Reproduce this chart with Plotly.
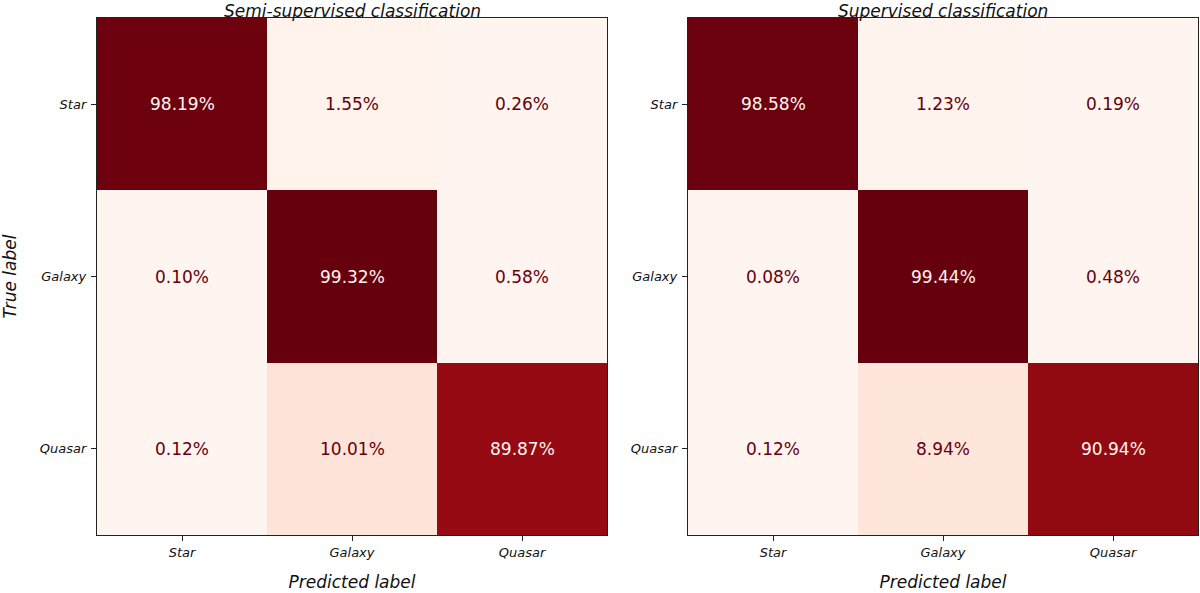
import plotly.graph_objects as go

labels = ["Star", "Galaxy", "Quasar"]
semi_values = [
    [98.19, 1.55, 0.26],
    [0.10, 99.32, 0.58],
    [0.12, 10.01, 89.87],
]
sup_values = [
    [98.58, 1.23, 0.19],
    [0.08, 99.44, 0.48],
    [0.12, 8.94, 90.94],
]
titles = ["Semi-supervised classification", "Supervised classification"]

W, H = 1200, 593
FONT = "DejaVu Sans"
DARK = "#67000d"
LIGHT = "#fff5f0"

fig = go.Figure()

panels = [(semi_values, 97, 607, "x", "y"), (sup_values, 688, 1198, "x2", "y2")]
y_dom = [1 - 535 / H, 1 - 18 / H]

annotations = []
for i, (vals, x0, x1, xa, ya) in enumerate(panels):
    flat = [v for row in vals for v in row]
    vmin, vmax = min(flat), max(flat)
    fig.add_trace(go.Heatmap(
        z=vals, x=labels, y=labels, colorscale="Reds", zmin=vmin, zmax=vmax,
        showscale=False, xaxis=xa, yaxis=ya, hoverinfo="skip", xgap=0, ygap=0,
    ))
    thresh = (vmin + vmax) / 2
    for r, row in enumerate(vals):
        for c, v in enumerate(row):
            annotations.append(dict(
                x=labels[c], y=labels[r], xref=xa, yref=ya, text=f"{v:.2f}%",
                showarrow=False,
                font=dict(family=FONT, size=17, color=LIGHT if v > thresh else DARK),
            ))
    sfx = "" if i == 0 else "2"
    axis_common = dict(
        showline=True, mirror=True, linecolor="#222", linewidth=1.3,
        ticks="outside", ticklen=5, tickcolor="#222", showgrid=False, zeroline=False,
        tickfont=dict(family=FONT, size=13, color="#111", style="italic"),
        automargin=False,
    )
    fig.update_layout(**{
        "xaxis" + sfx: dict(domain=[x0 / W, x1 / W], anchor="y" + sfx,
                            title=dict(text="Predicted label", standoff=17,
                                       font=dict(family=FONT, size=17, color="#111", style="italic")),
                            **axis_common),
        "yaxis" + sfx: dict(domain=y_dom, anchor="x" + sfx, autorange="reversed",
                            ticklabelstandoff=2,
                            title=dict(text="True label" if i == 0 else "", standoff=20,
                                       font=dict(family=FONT, size=17, color="#111", style="italic")),
                            **axis_common),
    })
    annotations.append(dict(
        x=(x0 + x1) / 2 / W, y=1, xref="paper", yref="paper",
        text=titles[i], showarrow=False, xanchor="center", yanchor="top",
        borderpad=0,
        font=dict(family=FONT, size=17, color="#111", style="italic"),
    ))

fig.update_layout(
    width=W, height=H, margin=dict(l=0, r=0, t=0, b=0),
    paper_bgcolor="white", plot_bgcolor="white",
    annotations=annotations, showlegend=False,
)

fig.write_html("out.html", config={"displayModeBar": False},
               post_script="document.body.style.margin='0';document.body.style.overflow='hidden';")
